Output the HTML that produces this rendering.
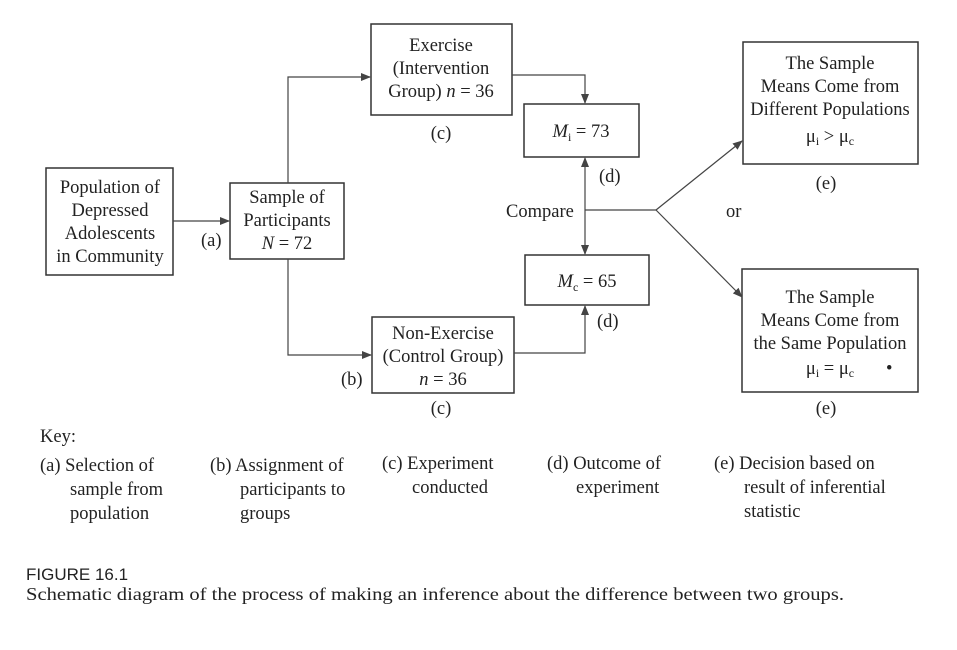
<!DOCTYPE html>
<html><head><meta charset="utf-8"><style>
html,body{margin:0;padding:0;background:#fff;}
svg{display:block;}
text{font-family:"Liberation Serif",serif;font-size:18.5px;fill:#222;}
</style></head><body>
<svg width="957" height="650" viewBox="0 0 957 650" xmlns="http://www.w3.org/2000/svg">
<defs><marker id="ar" markerWidth="10" markerHeight="10" refX="9" refY="5" orient="auto" markerUnits="userSpaceOnUse"><path d="M0,1 L10,5 L0,9 Z" fill="#444"/></marker></defs>
<g fill="none" stroke="#333" stroke-width="1.5">
<rect x="46" y="168" width="127" height="107"/>
<rect x="230" y="183" width="114" height="76"/>
<rect x="371" y="24" width="141" height="91"/>
<rect x="524" y="104" width="115" height="53"/>
<rect x="525" y="255" width="124" height="50"/>
<rect x="372" y="317" width="142" height="76"/>
<rect x="743" y="42" width="175" height="122"/>
<rect x="742" y="269" width="176" height="123"/>
</g>
<g fill="none" stroke="#444" stroke-width="1.2">
<line x1="173" y1="221" x2="229" y2="221" marker-end="url(#ar)"/>
<polyline points="288,183 288,77 370,77" marker-end="url(#ar)"/>
<polyline points="288,259 288,355 371,355" marker-end="url(#ar)"/>
<polyline points="512,75 585,75 585,103" marker-end="url(#ar)"/>
<line x1="585" y1="210" x2="585" y2="158" marker-end="url(#ar)"/>
<line x1="585" y1="210" x2="585" y2="254" marker-end="url(#ar)"/>
<polyline points="514,353 585,353 585,306" marker-end="url(#ar)"/>
<line x1="585" y1="210" x2="656" y2="210"/>
<line x1="656" y1="210" x2="742" y2="141" marker-end="url(#ar)"/>
<line x1="656" y1="210" x2="742" y2="297" marker-end="url(#ar)"/>
</g>
<g text-anchor="middle">
<text x="110" y="193">Population of</text>
<text x="110" y="216">Depressed</text>
<text x="110" y="239">Adolescents</text>
<text x="110" y="262">in Community</text>
<text x="287" y="203">Sample of</text>
<text x="287" y="226">Participants</text>
<text x="287" y="249"><tspan font-style="italic">N</tspan> = 72</text>
<text x="441" y="51">Exercise</text>
<text x="441" y="74">(Intervention</text>
<text x="441" y="97">Group) <tspan font-style="italic">n</tspan> = 36</text>
<text x="441" y="139">(c)</text>
<text x="581" y="137"><tspan font-style="italic">M</tspan><tspan font-size="12" dy="4">i</tspan><tspan dy="-4"> = 73</tspan></text>
<text x="587" y="287"><tspan font-style="italic">M</tspan><tspan font-size="12" dy="4">c</tspan><tspan dy="-4"> = 65</tspan></text>
<text x="443" y="339">Non-Exercise</text>
<text x="443" y="362">(Control Group)</text>
<text x="443" y="385"><tspan font-style="italic">n</tspan> = 36</text>
<text x="441" y="414">(c)</text>
<text x="830" y="69">The Sample</text>
<text x="830" y="92">Means Come from</text>
<text x="830" y="115">Different Populations</text>
<text x="830" y="142">μ<tspan font-size="12" dy="3">i</tspan><tspan dy="-3"> &gt; μ</tspan><tspan font-size="12" dy="3">c</tspan></text>
<text x="826" y="189">(e)</text>
<text x="830" y="303">The Sample</text>
<text x="830" y="326">Means Come from</text>
<text x="830" y="349">the Same Population</text>
<text x="830" y="374">μ<tspan font-size="12" dy="3">i</tspan><tspan dy="-3"> = μ</tspan><tspan font-size="12" dy="3">c</tspan></text>
<text x="826" y="414">(e)</text>
</g>
<text x="886" y="374">•</text>
<text x="201" y="246">(a)</text>
<text x="341" y="385">(b)</text>
<text x="599" y="182">(d)</text>
<text x="597" y="327">(d)</text>
<text x="506" y="217">Compare</text>
<text x="726" y="217">or</text>
<text x="40" y="442">Key:</text>
<text x="40" y="471">(a) Selection of</text>
<text x="70" y="495">sample from</text>
<text x="70" y="519">population</text>
<text x="210" y="471">(b) Assignment of</text>
<text x="240" y="495">participants to</text>
<text x="240" y="519">groups</text>
<text x="382" y="469">(c) Experiment</text>
<text x="412" y="493">conducted</text>
<text x="547" y="469">(d) Outcome of</text>
<text x="576" y="493">experiment</text>
<text x="714" y="469">(e) Decision based on</text>
<text x="744" y="493">result of inferential</text>
<text x="744" y="517">statistic</text>
<text x="26" y="580" style="font-family:'Liberation Sans',sans-serif;font-size:17px">FIGURE 16.1</text>
<text x="26" y="600" style="font-size:18px" textLength="818" lengthAdjust="spacingAndGlyphs">Schematic diagram of the process of making an inference about the difference between two groups.</text>
</svg>
</body></html>
